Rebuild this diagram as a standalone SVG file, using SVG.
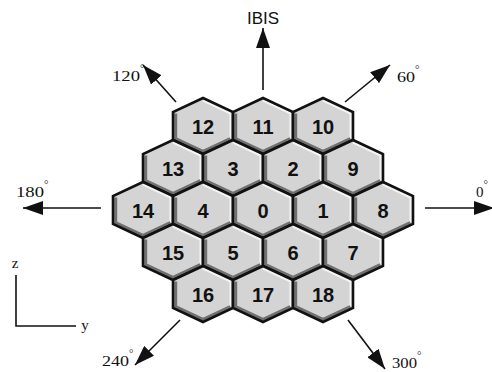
<svg xmlns="http://www.w3.org/2000/svg" xmlns:xlink="http://www.w3.org/1999/xlink" width="492" height="372" viewBox="0 0 492 372">
<style>
.face{fill:#d4d4d4;stroke:none}
.dark{fill:none;stroke:#707070;stroke-width:3;stroke-linejoin:round}
.lite{fill:none;stroke:#f4f4f4;stroke-width:2;stroke-linejoin:round}
.edge{fill:none;stroke:#111;stroke-width:2.6;stroke-linejoin:miter}
.num{font-family:"Liberation Sans",Arial,sans-serif;font-weight:bold;font-size:20px;text-anchor:middle;fill:#111}
.ang{font-family:"Liberation Serif","Times New Roman",serif;font-size:15px;fill:#111}
.deg{font-size:11px}
.ax{stroke:#111;stroke-width:1.6;fill:none}
.arr{stroke:#111;stroke-width:1.6;fill:none;marker-end:url(#ah)}
</style>
<defs>
<marker id="ah" markerUnits="userSpaceOnUse" markerWidth="22" markerHeight="14" refX="20" refY="7" orient="auto">
<path d="M0,0 L20,7 L0,14 Z" fill="#111"/>
</marker>
<g id="hx">
<polygon class="face" points="0,-28 30,-14 30,14 0,28 -30,14 -30,-14"/>
<polyline class="lite" points="0,-25.5 27.5,-12.5 27.5,12.5"/>
<polyline class="dark" points="-27.3,-12.5 -27.3,12.7 0,25.3 27.3,12.7"/>
<polygon class="edge" points="0,-28 30,-14 30,14 0,28 -30,14 -30,-14"/>
</g>
</defs>
<g id="connectors">
<line class="arr" x1="263" y1="90" x2="263" y2="28"/>
<line class="arr" x1="345" y1="102" x2="390" y2="65"/>
<line class="arr" x1="176" y1="102" x2="143" y2="65"/>
<line class="arr" x1="101" y1="208" x2="23" y2="208"/>
<line class="arr" x1="425" y1="208" x2="494" y2="208"/>
<line class="arr" x1="180" y1="320" x2="135" y2="365"/>
<line class="arr" x1="348" y1="320" x2="385" y2="369"/>
</g>
<g id="n12"><use xlink:href="#hx" x="203" y="126"/><text class="num" x="203" y="134">12</text></g>
<g id="n11"><use xlink:href="#hx" x="263" y="126"/><text class="num" x="263" y="134">11</text></g>
<g id="n10"><use xlink:href="#hx" x="323" y="126"/><text class="num" x="323" y="134">10</text></g>
<g id="n13"><use xlink:href="#hx" x="173" y="168"/><text class="num" x="173" y="176">13</text></g>
<g id="n3"><use xlink:href="#hx" x="233" y="168"/><text class="num" x="233" y="176">3</text></g>
<g id="n2"><use xlink:href="#hx" x="293" y="168"/><text class="num" x="293" y="176">2</text></g>
<g id="n9"><use xlink:href="#hx" x="353" y="168"/><text class="num" x="353" y="176">9</text></g>
<g id="n14"><use xlink:href="#hx" x="143" y="210"/><text class="num" x="143" y="218">14</text></g>
<g id="n4"><use xlink:href="#hx" x="203" y="210"/><text class="num" x="203" y="218">4</text></g>
<g id="n0"><use xlink:href="#hx" x="263" y="210"/><text class="num" x="263" y="218">0</text></g>
<g id="n1"><use xlink:href="#hx" x="323" y="210"/><text class="num" x="323" y="218">1</text></g>
<g id="n8"><use xlink:href="#hx" x="383" y="210"/><text class="num" x="383" y="218">8</text></g>
<g id="n15"><use xlink:href="#hx" x="173" y="252"/><text class="num" x="173" y="260">15</text></g>
<g id="n5"><use xlink:href="#hx" x="233" y="252"/><text class="num" x="233" y="260">5</text></g>
<g id="n6"><use xlink:href="#hx" x="293" y="252"/><text class="num" x="293" y="260">6</text></g>
<g id="n7"><use xlink:href="#hx" x="353" y="252"/><text class="num" x="353" y="260">7</text></g>
<g id="n16"><use xlink:href="#hx" x="203" y="294"/><text class="num" x="203" y="302">16</text></g>
<g id="n17"><use xlink:href="#hx" x="263" y="294"/><text class="num" x="263" y="302">17</text></g>
<g id="n18"><use xlink:href="#hx" x="323" y="294"/><text class="num" x="323" y="302">18</text></g>
<g id="labels">
<text x="263" y="24" font-family="'Liberation Sans',Arial,sans-serif" font-size="17" text-anchor="middle" fill="#111">IBIS</text>
<text class="ang" x="112" y="81"><tspan textLength="28" lengthAdjust="spacingAndGlyphs">120</tspan><tspan class="deg" dy="-9">°</tspan></text>
<text class="ang" x="397" y="82"><tspan textLength="18" lengthAdjust="spacingAndGlyphs">60</tspan><tspan class="deg" dy="-9">°</tspan></text>
<text class="ang" x="16" y="197"><tspan textLength="28" lengthAdjust="spacingAndGlyphs">180</tspan><tspan class="deg" dy="-9">°</tspan></text>
<text class="ang" x="476" y="197">0<tspan class="deg" dy="-9">°</tspan></text>
<text class="ang" x="102" y="366"><tspan textLength="27" lengthAdjust="spacingAndGlyphs">240</tspan><tspan class="deg" dy="-9">°</tspan></text>
<text class="ang" x="392" y="368"><tspan textLength="25" lengthAdjust="spacingAndGlyphs">300</tspan><tspan class="deg" dy="-9">°</tspan></text>
</g>
<g id="axes">
<polyline class="ax" points="16,275 16,326 76,326"/>
<text class="ang" x="15" y="268" text-anchor="middle">z</text>
<text class="ang" x="85" y="330" text-anchor="middle">y</text>
</g>
</svg>
